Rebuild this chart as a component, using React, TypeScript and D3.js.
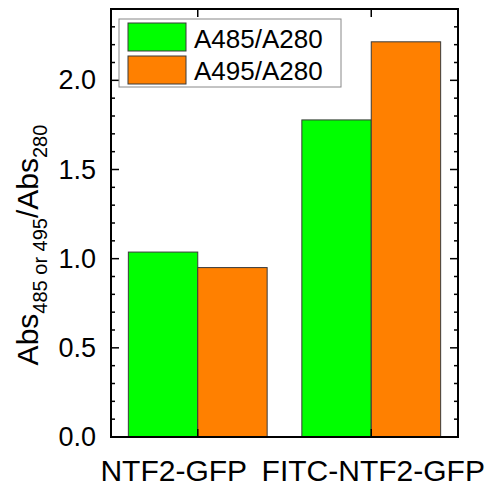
import React from "react";
import * as d3 from "d3";

const categories = ["NTF2-GFP", "FITC-NTF2-GFP"];
const seriesNames = ["A485/A280", "A495/A280"];
const seriesA485 = [1.037, 1.778];
const seriesA495 = [0.95, 2.216];
const colors = ["#00FF00", "#FF8000"];
const yMajorTicks = [0, 0.5, 1.0, 1.5, 2.0];

const W = 486;
const H = 489;
const M = { left: 111, right: 458, top: 9, bottom: 437 };
const FONT = "'Liberation Sans', Arial, sans-serif";

export default function App() {
  const x = d3.scaleLinear().domain([0.5, 2.5]).range([M.left, M.right]);
  const y = d3.scaleLinear().domain([0, 2.4]).range([M.bottom, M.top]);
  const barW = x(1.4) - x(1);
  const series = [seriesA485, seriesA495];
  const minorTicks = d3.range(0, 24).map((i) => i / 10).filter((v) => Math.round(v * 10) % 5 !== 0);
  const labelShift = [-24, 2];

  return (
    <div style={{ position: "absolute", left: 0, top: 0 }}>
      <svg width={W} height={H} style={{ display: "block", background: "#fff" }}>
        {series.map((vals, si) =>
          vals.map((v, ci) => {
            const cx = x(ci + 1);
            const x0 = si === 0 ? cx - barW : cx;
            return (
              <rect
                key={`${si}-${ci}`}
                x={x0}
                y={y(v)}
                width={barW}
                height={y(0) - y(v)}
                fill={colors[si]}
                stroke="#3a3a3a"
                strokeWidth={1}
              />
            );
          })
        )}
        {yMajorTicks.map((t) => (
          <g key={`maj${t}`}>
            <line x1={M.left} x2={M.left + 8} y1={y(t)} y2={y(t)} stroke="#000" strokeWidth={1.5} />
            <line x1={M.right} x2={M.right - 8} y1={y(t)} y2={y(t)} stroke="#000" strokeWidth={1.5} />
            <text
              x={96}
              y={y(t)}
              textAnchor="end"
              dominantBaseline="central"
              fontFamily={FONT}
              fontSize={27}
              fill="#000"
            >
              {t.toFixed(1)}
            </text>
          </g>
        ))}
        {minorTicks.map((t) => (
          <g key={`min${t}`}>
            <line x1={M.left} x2={M.left + 4} y1={y(t)} y2={y(t)} stroke="#000" strokeWidth={1.5} />
            <line x1={M.right} x2={M.right - 4} y1={y(t)} y2={y(t)} stroke="#000" strokeWidth={1.5} />
          </g>
        ))}
        {categories.map((c, i) => (
          <g key={c}>
            <line x1={x(i + 1)} x2={x(i + 1)} y1={M.top} y2={M.top + 8} stroke="#000" strokeWidth={1.5} />
            <line x1={x(i + 1)} x2={x(i + 1)} y1={M.bottom} y2={M.bottom - 8} stroke="#000" strokeWidth={1.5} />
            <text
              x={x(i + 1) + labelShift[i]}
              y={481}
              textAnchor="middle"
              fontFamily={FONT}
              fontSize={30}
              fill="#000"
            >
              {c}
            </text>
          </g>
        ))}
        <rect
          x={M.left}
          y={M.top}
          width={M.right - M.left}
          height={M.bottom - M.top}
          fill="none"
          stroke="#000"
          strokeWidth={2}
        />
        <rect x={119} y={19} width={222} height={68} fill="#fff" stroke="#888" strokeWidth={1} />
        {seriesNames.map((s, i) => (
          <g key={s}>
            <rect x={128} y={23 + i * 33} width={58} height={28} fill={colors[i]} stroke="#3a3a3a" strokeWidth={1} />
            <text x={194} y={48 + i * 32} fontFamily={FONT} fontSize={26} fill="#000">
              {s}
            </text>
          </g>
        ))}
        <text
          transform={`translate(38, 245) rotate(-90)`}
          textAnchor="middle"
          fontFamily={FONT}
          fontSize={30}
          fill="#000"
        >
          Abs
          <tspan fontSize={20} dy={9}>485 or 495</tspan>
          <tspan dy={-9}>/Abs</tspan>
          <tspan fontSize={20} dy={9}>280</tspan>
        </text>
      </svg>
    </div>
  );
}
